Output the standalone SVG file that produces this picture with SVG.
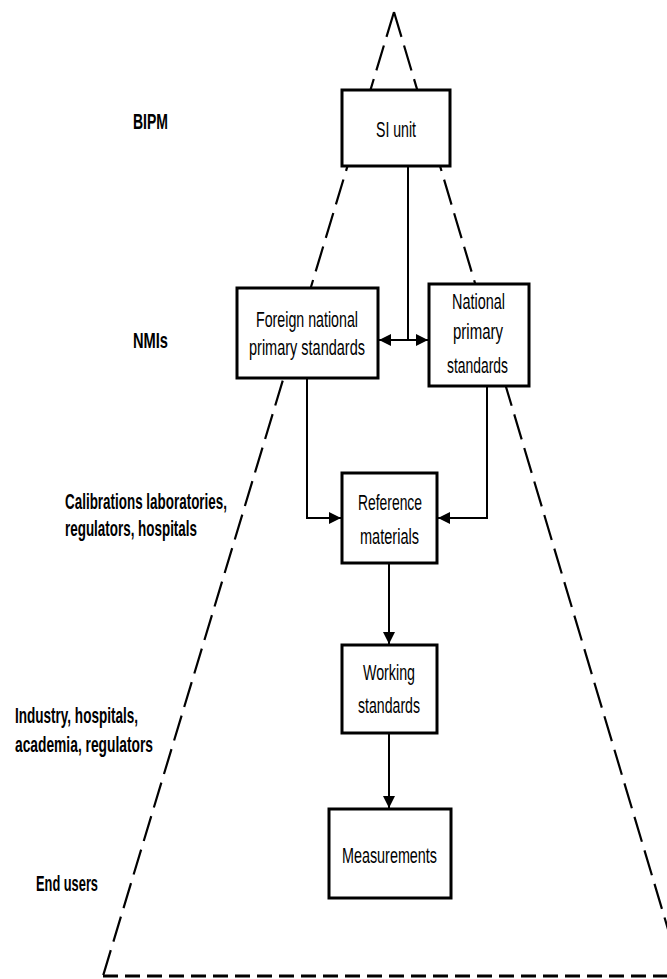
<svg xmlns="http://www.w3.org/2000/svg" width="667" height="979" viewBox="0 0 667 979">
  <style>
    .box { fill: #ffffff; stroke: #000000; stroke-width: 3; }
    .link { fill: none; stroke: #000000; stroke-width: 2; }
    .slant { fill: none; stroke: #000000; stroke-width: 2.2; stroke-dasharray: 26 9; }
    .base { fill: none; stroke: #000000; stroke-width: 3; stroke-dasharray: 15 7; }
    .lbl { font-family: "Liberation Sans", Arial, sans-serif; font-size: 22px; fill: #000000; }
    .tier { font-family: "Liberation Sans", Arial, sans-serif; font-size: 22px; font-weight: bold; fill: #000000; }
  </style>
  <defs>
    <marker id="head" markerUnits="userSpaceOnUse" markerWidth="12" markerHeight="12" refX="10" refY="5" orient="auto-start-reverse" viewBox="0 0 10 10">
      <path d="M0,0 L10,5 L0,10 z" fill="#000000"/>
    </marker>
  </defs>

  <rect width="667" height="979" fill="#ffffff"/>

  <!-- dashed pyramid outline -->
  <g id="pyramid">
    <line class="slant" x1="394" y1="12" x2="103" y2="976"/>
    <line class="slant" x1="394" y1="12" x2="682" y2="976"/>
    <line class="base" x1="103" y1="976" x2="667" y2="976"/>
  </g>

  <!-- tier labels -->
  <g id="tiers">
    <text class="tier" x="133" y="129" textLength="35" lengthAdjust="spacingAndGlyphs">BIPM</text>
    <text class="tier" x="133" y="348" textLength="35" lengthAdjust="spacingAndGlyphs">NMIs</text>
    <text class="tier" x="65" y="509" textLength="162" lengthAdjust="spacingAndGlyphs">Calibrations laboratories,</text>
    <text class="tier" x="65" y="536" textLength="132" lengthAdjust="spacingAndGlyphs">regulators, hospitals</text>
    <text class="tier" x="15" y="723" textLength="123" lengthAdjust="spacingAndGlyphs">Industry, hospitals,</text>
    <text class="tier" x="15" y="752" textLength="138" lengthAdjust="spacingAndGlyphs">academia, regulators</text>
    <text class="tier" x="36" y="891" textLength="62" lengthAdjust="spacingAndGlyphs">End users</text>
  </g>

  <!-- connectors -->
  <g id="connectors">
    <line class="link" x1="408" y1="166" x2="408" y2="340"/>
    <line class="link" x1="379" y1="340" x2="428" y2="340" marker-start="url(#head)" marker-end="url(#head)"/>
    <polyline class="link" points="307,378 307,518 341,518" marker-end="url(#head)"/>
    <polyline class="link" points="487,386 487,518 438,518" marker-end="url(#head)"/>
    <line class="link" x1="389" y1="563" x2="389" y2="644" marker-end="url(#head)"/>
    <line class="link" x1="389" y1="733" x2="389" y2="808" marker-end="url(#head)"/>
  </g>

  <!-- nodes -->
  <g id="si-unit">
    <rect class="box" x="342" y="90" width="108" height="76"/>
    <text class="lbl" x="376" y="137" textLength="40" lengthAdjust="spacingAndGlyphs">SI unit</text>
  </g>
  <g id="foreign-national">
    <rect class="box" x="237" y="288" width="141" height="90"/>
    <text class="lbl" x="256" y="327" textLength="102" lengthAdjust="spacingAndGlyphs">Foreign national</text>
    <text class="lbl" x="249" y="355" textLength="116" lengthAdjust="spacingAndGlyphs">primary standards</text>
  </g>
  <g id="national-primary">
    <rect class="box" x="429" y="284" width="100" height="102"/>
    <text class="lbl" x="452" y="309" textLength="53" lengthAdjust="spacingAndGlyphs">National</text>
    <text class="lbl" x="453" y="339" textLength="50" lengthAdjust="spacingAndGlyphs">primary</text>
    <text class="lbl" x="447" y="373" textLength="61" lengthAdjust="spacingAndGlyphs">standards</text>
  </g>
  <g id="reference-materials">
    <rect class="box" x="342" y="473" width="95" height="90"/>
    <text class="lbl" x="358" y="510" textLength="64" lengthAdjust="spacingAndGlyphs">Reference</text>
    <text class="lbl" x="360" y="544" textLength="59" lengthAdjust="spacingAndGlyphs">materials</text>
  </g>
  <g id="working-standards">
    <rect class="box" x="342" y="645" width="95" height="88"/>
    <text class="lbl" x="363" y="680" textLength="52" lengthAdjust="spacingAndGlyphs">Working</text>
    <text class="lbl" x="358" y="713" textLength="62" lengthAdjust="spacingAndGlyphs">standards</text>
  </g>
  <g id="measurements">
    <rect class="box" x="329" y="809" width="122" height="89"/>
    <text class="lbl" x="342" y="863" textLength="95" lengthAdjust="spacingAndGlyphs">Measurements</text>
  </g>
</svg>
